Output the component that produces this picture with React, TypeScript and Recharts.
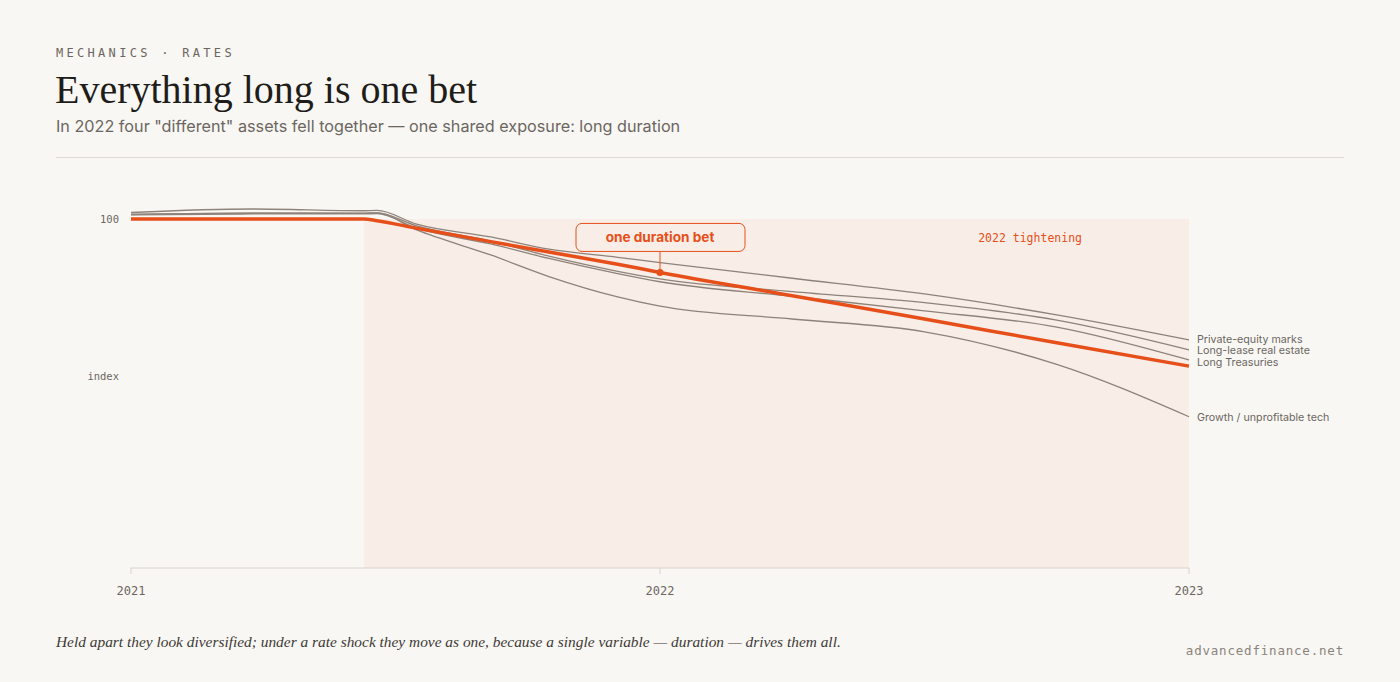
import React from 'react'
import { LineChart, Line, XAxis, YAxis, ReferenceArea, ReferenceDot, LabelList } from 'recharts'

// x positions in fractional years, shared by every series
const YEARS = [2021, 2021.23, 2021.44, 2021.465, 2021.54, 2021.68, 2021.79, 2021.92, 2022, 2022.25, 2022.5, 2022.75, 2023]

// rebased to 100 at the start of the window
const DURATION = [100, 100, 100, 99.7, 98.4, 96.1, 94.3, 92.2, 90.8, 86.8, 82.8, 78.7, 74.7]
const PRIVATE_EQUITY = [101.1, 101.7, 101.4, 101.45, 99.1, 96.9, 94.8, 93.4, 92.5, 89.8, 87.1, 83.5, 79.2]
const REAL_ESTATE = [100.8, 101.0, 100.95, 101.05, 98.8, 96.2, 93.6, 91.0, 89.7, 87.5, 85.6, 82.6, 77.5]
const TREASURIES = [100.7, 100.85, 100.85, 100.9, 98.4, 95.7, 93.2, 90.6, 89.2, 86.7, 84.2, 81.4, 75.75]
const GROWTH = [100.75, 101.0, 101.0, 101.05, 98.1, 93.8, 90.1, 86.6, 85.0, 82.8, 80.6, 75.0, 66.0]

const X_TICKS = [2021, 2022, 2023]
const Y_TICKS = [100]
const TIGHTENING_START = 2021.44
const TIGHTENING_END = 2023
const CALLOUT_YEAR = 2022

// nudge keeps the stacked end labels from touching
const ASSETS = [
  { key: 'privateEquity', name: 'Private-equity marks', values: PRIVATE_EQUITY, nudge: -0.8 },
  { key: 'realEstate', name: 'Long-lease real estate', values: REAL_ESTATE, nudge: 0.8 },
  { key: 'treasuries', name: 'Long Treasuries', values: TREASURIES, nudge: 1.8 },
  { key: 'growth', name: 'Growth / unprofitable tech', values: GROWTH, nudge: 1 },
]

const data = YEARS.map((year, i) => {
  const row: Record<string, number> = { year, duration: DURATION[i] }
  ASSETS.forEach(a => { row[a.key] = a.values[i] })
  return row
})

const BG = '#f9f7f3'
const SHADE = '#f8eee7'
const ORANGE = '#e64f1a'
const GRAY_LINE = '#8e837a'
const MUTED = '#6b6661'
const MONO = '"DejaVu Sans Mono", "Liberation Mono", monospace'
const SANS = 'Inter, "Noto Sans", sans-serif'
const SERIF = '"Liberation Serif", serif'

const LAST = YEARS.length - 1

const endLabel = (name: string, nudge: number) => (props: any) => {
  if (props.index !== LAST) return null
  const x = props.viewBox?.x ?? props.x
  const y = props.viewBox?.y ?? props.y
  return (
    <text x={x + 8} y={y + nudge} dy="0.35em" fill={MUTED} fontSize={10.7} fontFamily={SANS}>
      {name}
    </text>
  )
}

const BetCallout = (props: any) => {
  const { cx, cy } = props
  return (
    <g>
      <line x1={cx} x2={cx} y1={cy - 21} y2={cy} stroke={ORANGE} strokeWidth={1} />
      <rect x={cx - 84} y={cy - 49} width={169} height={28} rx={6} fill={SHADE} stroke={ORANGE} strokeWidth={1} />
      <text x={cx} y={cy - 35} dy="0.35em" textAnchor="middle" fill={ORANGE} fontWeight={700} fontSize={13.6} fontFamily={SANS}>
        one duration bet
      </text>
      <circle cx={cx} cy={cy} r={3.5} fill={ORANGE} />
    </g>
  )
}

const TighteningLabel = (props: any) => {
  const vb = props.viewBox
  if (!vb) return null
  return (
    <text x={vb.x + vb.width - 107} y={vb.y + 19} dy="0.35em" textAnchor="end" fill={ORANGE} fontSize={11.5} fontFamily={MONO}>
      2022 tightening
    </text>
  )
}

export default function App() {
  return (
    <div style={{ position: 'fixed', left: 0, top: 0, width: 1400, height: 682, background: BG, overflow: 'hidden' }}>
      <LineChart
        width={1400}
        height={682}
        data={data}
        margin={{ top: 184, right: 211, bottom: 74, left: 71 }}
        style={{ position: 'absolute', left: 0, top: 0 }}
      >
        <XAxis
          dataKey="year"
          type="number"
          domain={[2021, 2023]}
          ticks={X_TICKS}
          tickFormatter={(v: number) => String(v)}
          height={40}
          axisLine={{ stroke: '#d8d3cb' }}
          tickLine={{ stroke: '#d8d3cb' }}
          tickSize={6}
          tickMargin={12}
          tick={{ fill: MUTED, fontSize: 12, fontFamily: MONO }}
        />
        <YAxis
          type="number"
          domain={[40, 106]}
          ticks={Y_TICKS}
          width={60}
          axisLine={false}
          tickLine={false}
          tickSize={0}
          tickMargin={12}
          tick={{ fill: MUTED, fontSize: 10.5, fontFamily: MONO }}
          label={{ value: 'index', position: 'insideRight', offset: 12, fill: MUTED, fontSize: 10.5, fontFamily: MONO }}
        />
        <ReferenceArea
          x1={TIGHTENING_START}
          x2={TIGHTENING_END}
          y1={40}
          y2={100}
          fill={SHADE}
          fillOpacity={1}
          stroke="none"
          label={<TighteningLabel />}
        />
        {ASSETS.map(a => (
          <Line
            key={a.key}
            dataKey={a.key}
            type="monotone"
            stroke={GRAY_LINE}
            strokeWidth={1.3}
            dot={false}
            activeDot={false}
            isAnimationActive={false}
          >
            <LabelList dataKey={a.key} content={endLabel(a.name, a.nudge)} />
          </Line>
        ))}
        <Line
          dataKey="duration"
          type="monotone"
          stroke={ORANGE}
          strokeWidth={3.5}
          dot={false}
          activeDot={false}
          isAnimationActive={false}
        />
        <ReferenceDot
          x={CALLOUT_YEAR}
          y={DURATION[YEARS.indexOf(CALLOUT_YEAR)]}
          r={3.5}
          shape={<BetCallout />}
        />
      </LineChart>

      <div style={{ position: 'absolute', left: 56, top: 47, fontFamily: MONO, fontSize: 12, lineHeight: 1, letterSpacing: 3.3, color: MUTED }}>
        MECHANICS · RATES
      </div>
      <div style={{ position: 'absolute', left: 55, top: 69.5, fontFamily: SERIF, fontSize: 40, lineHeight: 1, color: '#1f1d1a' }}>
        Everything long is one bet
      </div>
      <div style={{ position: 'absolute', left: 56, top: 118, fontFamily: SANS, fontSize: 16.2, lineHeight: 1, color: MUTED }}>
        In 2022 four "different" assets fell together — one shared exposure: long duration
      </div>
      <div style={{ position: 'absolute', left: 56, top: 157, width: 1288, height: 1, background: '#dedad3' }} />
      <div style={{ position: 'absolute', left: 56, top: 634, fontFamily: SERIF, fontStyle: 'italic', fontSize: 15.4, lineHeight: 1, color: '#3d3a36' }}>
        Held apart they look diversified; under a rate shock they move as one, because a single variable — duration — drives them all.
      </div>
      <div style={{ position: 'absolute', right: 56, top: 644.5, fontFamily: MONO, fontSize: 12.5, lineHeight: 1, letterSpacing: 0.8, color: '#8a847d' }}>
        advancedfinance.net
      </div>
    </div>
  )
}
